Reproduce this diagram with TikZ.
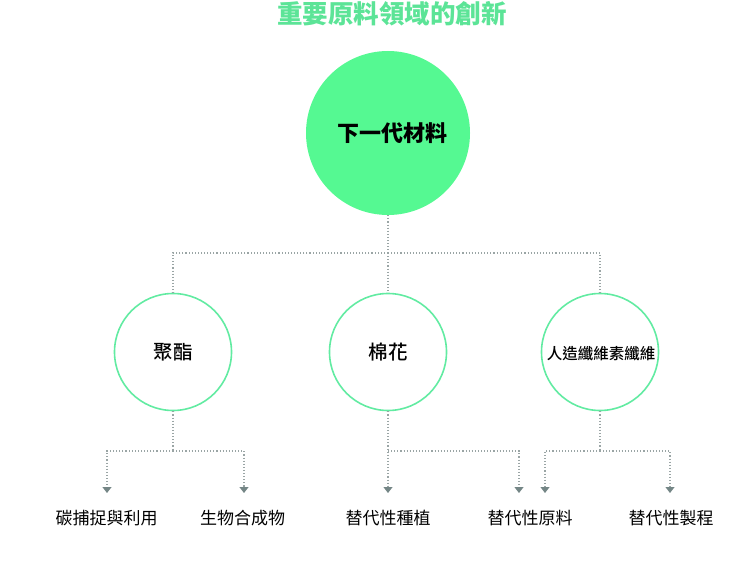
\documentclass[tikz,border=0pt]{standalone}
\usepackage{fontspec}
\setmainfont{Noto Sans CJK TC}
\newfontfamily\cjkmed{Noto Sans CJK TC Medium}
\usetikzlibrary{arrows.meta}
\definecolor{titlegreen}{HTML}{5CE497}
\definecolor{bigfill}{HTML}{55F992}
\definecolor{ringgreen}{HTML}{62EBA2}
\definecolor{dotgrey}{HTML}{9AA5A5}
\definecolor{tipgrey}{HTML}{748686}
\tikzset{
  conn/.style={draw=dotgrey, line width=1.1bp, dash pattern=on 1.1bp off 2bp},
  arr/.style={conn, -{Triangle[width=9bp,length=6bp,fill=tipgrey,color=tipgrey]}},
  bigcircle/.style={circle, fill=bigfill, minimum size=164bp, inner sep=0pt},
  ring/.style={circle, draw=ringgreen, line width=1.6bp, minimum size=117bp, inner sep=0pt},
  leaf/.style={inner sep=0pt, font=\fontsize{17bp}{19bp}\selectfont}
}
\begin{document}
\begin{tikzpicture}[x=1bp,y=-1bp]
\useasboundingbox (0,0) rectangle (750,578);
\node[font=\fontsize{25.5bp}{28bp}\selectfont\bfseries, text=titlegreen] (title) at (392,14) {重要原料領域的創新};
\node[bigcircle] (big) at (388,133) {};
\node[font=\fontsize{22bp}{24bp}\selectfont\bfseries] (bigtxt) at (392,133) {下一代材料};
\node[ring, font=\fontsize{19.5bp}{21bp}\cjkmed] (c1) at (173,352) {聚酯};
\node[ring, font=\fontsize{19.5bp}{21bp}\cjkmed] (c2) at (388,352) {棉花};
\node[ring] (c3) at (600,352) {};
\node[font=\fontsize{15.5bp}{17bp}\cjkmed, inner sep=0pt] (c3txt) at (601,354) {人造纖維素纖維};
\coordinate (hub) at (388,253);
\coordinate (h1) at (173,451);
\coordinate (h2) at (388,451);
\coordinate (h3) at (600,451);
\coordinate (t1) at (107,493);
\coordinate (t2) at (244,493);
\coordinate (t3) at (388,493);
\coordinate (t4) at (519,493);
\coordinate (t5) at (545,493);
\coordinate (t6) at (670,493);
\draw[conn] (big.south) -- (hub);
\draw[conn] (hub) -| (c1.north);
\draw[conn] (hub) -- (c2.north);
\draw[conn] (hub) -| (c3.north);
\draw[conn] (c1.south) -- (h1);
\draw[arr] (h1) -| (t1);
\draw[arr] (h1) -| (t2);
\draw[arr] (c2.south) -- (t3);
\draw[arr] (h2) -| (t4);
\draw[conn] (c3.south) -- (h3);
\draw[arr] (h3) -| (t5);
\draw[arr] (h3) -| (t6);
\node[leaf] (l1) at (106.5,518) {碳捕捉與利用};
\node[leaf] (l2) at (242.5,518) {生物合成物};
\node[leaf] (l3) at (388,518) {替代性種植};
\node[leaf] (l4) at (530,518) {替代性原料};
\node[leaf] (l5) at (671,518) {替代性製程};
\end{tikzpicture}
\end{document}
